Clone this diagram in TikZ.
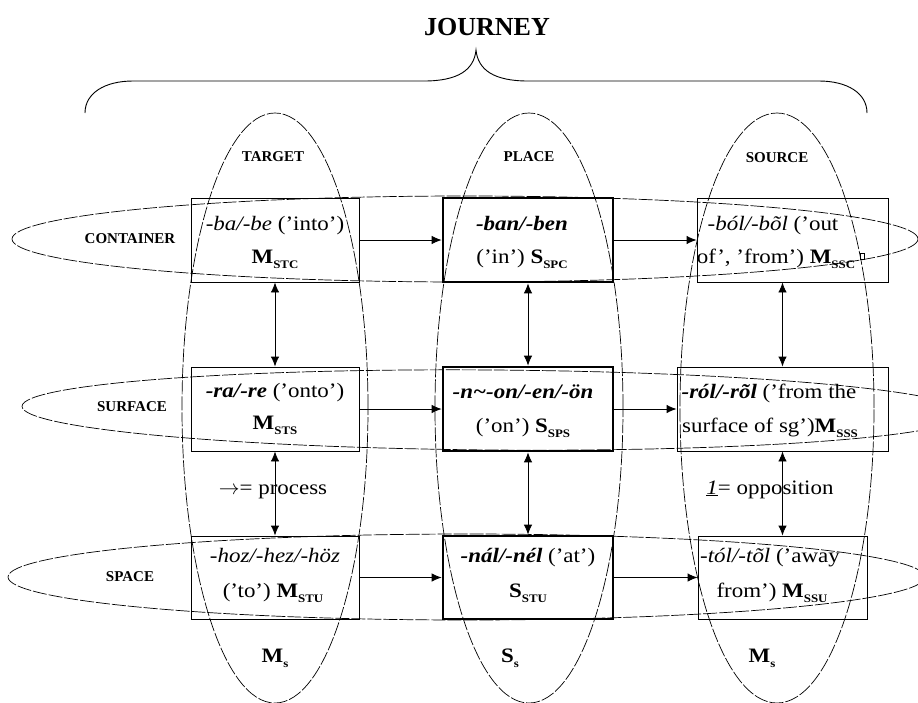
\documentclass[tikz,border=0pt]{standalone}
\usepackage{fontspec}
\setmainfont{Liberation Serif}[Ligatures=TeX]
\newfontfamily\cellfont{Liberation Serif}[FakeStretch=1.12, Ligatures=TeX]
\usetikzlibrary{arrows.meta}

\tikzset{
  ell/.style={draw, line width=0.7pt, dash pattern=on 14pt off 2pt},
  cellbox/.style={draw, line width=0.9pt, inner sep=0pt},
  placebox/.style={cellbox, line width=2.6pt},
  celltext/.style={inner sep=0pt, text height=14pt, text depth=4pt,
    font=\cellfont\fontsize{20.5}{24}\selectfont},
  lbl/.style={inner sep=0pt, font=\bfseries\fontsize{15}{18}\selectfont},
  tip/.tip={Latex[length=10pt,width=8.5pt]},
  arr/.style={line width=0.9pt, -tip},
  darr/.style={line width=0.9pt, tip-tip},
  bracepath/.style={line width=0.9pt},
}
% bold lowered subscript
\newcommand{\sbs}[1]{\raisebox{-5pt}{\fontsize{11.5}{11.5}\selectfont\bfseries #1}}

\begin{document}
\begin{tikzpicture}[x=1pt, y=-1pt]
\useasboundingbox (0,0) rectangle (918,702);
\clip (0,0) rectangle (918,702);

% title and brace
\node[inner sep=0pt, font=\bfseries\fontsize{26}{30}\selectfont] (journey) at (487,27) {JOURNEY};
\draw[bracepath] (85,113) .. controls (85,93) and (105,81) .. (133,81) -- (424,81)
  .. controls (458,81) and (474,70) .. (476,50)
  .. controls (478,70) and (494,81) .. (528,81) -- (819,81)
  .. controls (847,81) and (867,93) .. (867,113);

% column ellipses
\draw[ell] (275,408) ellipse [x radius=93pt, y radius=295pt];
\draw[ell] (529,408) ellipse [x radius=94pt, y radius=295pt];
\draw[ell] (777,408) ellipse [x radius=97pt, y radius=295pt];
% row ellipses
\draw[ell] (465,239) ellipse [x radius=453pt, y radius=43pt];
\draw[ell, rotate around={-0.45:(494,410)}] (494,410) ellipse [x radius=472pt, y radius=40pt];
\draw[ell] (466.5,577) ellipse [x radius=458.5pt, y radius=43pt];

% column and row labels
\node[lbl] (target) at (273,157) {TARGET};
\node[lbl] (place) at (529,157) {PLACE};
\node[lbl] (source) at (777,158) {SOURCE};
\node[lbl] (container) at (130,239) {CONTAINER};
\node[lbl] (surface) at (132,407) {SURFACE};
\node[lbl] (space) at (130,577) {SPACE};

% cells
\node[cellbox, minimum width=168pt, minimum height=84pt] (b11) at (275,240) {};
\node[placebox, minimum width=170pt, minimum height=84pt] (b12) at (528,240) {};
\node[cellbox, minimum width=191pt, minimum height=84pt] (b13) at (792.5,240) {};
\node[cellbox, minimum width=168pt, minimum height=84pt] (b21) at (275,409) {};
\node[placebox, minimum width=170pt, minimum height=84pt] (b22) at (528,409) {};
\node[cellbox, minimum width=211pt, minimum height=84pt] (b23) at (782.5,409) {};
\node[cellbox, minimum width=168pt, minimum height=83pt] (b31) at (275,577.5) {};
\node[placebox, minimum width=170pt, minimum height=83pt] (b32) at (528,577.5) {};
\node[cellbox, minimum width=169pt, minimum height=83pt] (b33) at (782.5,577.5) {};

% cell texts
\node[celltext] (t11a) at (275,225) {\textit{-ba/-be} (’into’)};
\node[celltext] (t11b) at (275,258) {\textbf{M}\sbs{STC}};
\node[celltext] (t12a) at (522,225) {\textbf{\textit{-ban/-ben}}};
\node[celltext] (t12b) at (522,258) {(’in’) \textbf{S}\sbs{SPC}};
\node[celltext] (t13a) at (773,225) {\textit{-ból/-bõl} (’out};
\node[celltext] (t13b) at (776,258) {of’, ’from’) \textbf{M}\sbs{SSC}};
\node[draw, line width=0.5pt, inner sep=0pt, minimum width=4pt, minimum height=6pt] (sq) at (862,256) {};

\node[celltext] (t21a) at (275,392) {\textbf{\textit{-ra/-re}} (’onto’)};
\node[celltext] (t21b) at (275,424) {\textbf{M}\sbs{STS}};
\node[celltext] (t22a) at (523,393) {\textbf{\textit{-n\textasciitilde-on/-en/-ön}}};
\node[celltext] (t22b) at (523,427) {(’on’) \textbf{S}\sbs{SPS}};
\node[celltext] (t23a) at (769,393) {\textbf{\textit{-ról/-rõl}} (’from the};
\node[celltext] (t23b) at (770,427) {surface of sg’)\textbf{M}\sbs{SSS}};

\node[celltext] (t31a) at (275,557) {\textit{-hoz/-hez/-höz}};
\node[celltext] (t31b) at (273,592) {(’to’) \textbf{M}\sbs{STU}};
\node[celltext] (t32a) at (528,557) {\textbf{\textit{-nál/-nél}} (’at’)};
\node[celltext] (t32b) at (528,592) {\textbf{S}\sbs{STU}};
\node[celltext] (t33a) at (770,557) {\textit{-tól/-tõl} (’away};
\node[celltext] (t33b) at (772,592) {from’) \textbf{M}\sbs{SSU}};

% legends
\node[celltext] (process) at (273,489) {$\rightarrow$= process};
\node[celltext] (opposition) at (770,489) {\underline{\textit{1}}= opposition};

% bottom labels
\node[celltext] (ms1) at (275,657) {\textbf{M}\sbs{s}};
\node[celltext] (ss) at (510,657) {\textbf{S}\sbs{s}};
\node[celltext] (ms2) at (762,657) {\textbf{M}\sbs{s}};

% horizontal process arrows
\draw[arr] (b11.east) -- (b12.west);
\draw[arr] (b12.east) -- (b13.west);
\draw[arr] (b21.east) -- (b22.west);
\draw[arr] (b22.east) -- (b23.west);
\draw[arr] (b31.east) -- (b32.west);
\draw[arr] (b32.east) -- (b33.west);

% vertical opposition arrows
\draw[darr] (b11.south) -- (b21.north);
\draw[darr] (b21.south) -- (b31.north);
\draw[darr] (b12.south) -- (b22.north);
\draw[darr] (b22.south) -- (b32.north);
\draw[darr] (b23.north |- b13.south) -- (b23.north);
\draw[darr] (b23.south) -- (b33.north);
\end{tikzpicture}
\end{document}
